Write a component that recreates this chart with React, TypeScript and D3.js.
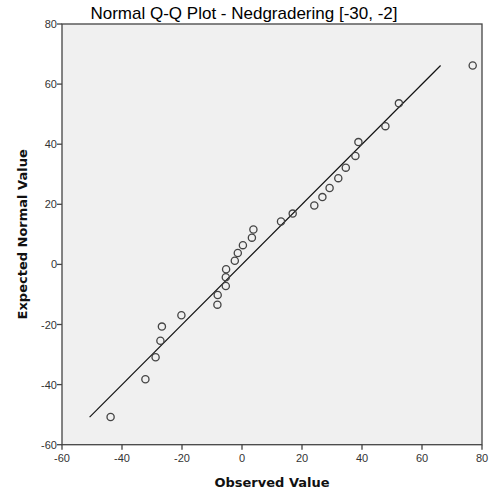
import React from "react";
import * as d3 from "d3";

const observed = [-43.8, -32.2, -28.8, -27.2, -26.7, -20.2, -8.2, -8.1, -5.4, -5.4, -5.3, -2.4, -1.4, 0.3, 3.3, 3.8, 13, 16.9, 24.1, 26.8, 29.2, 32.1, 34.6, 37.8, 38.8, 47.8, 52.3, 76.9];
const expected = [-50.8, -38.2, -30.9, -25.4, -20.7, -16.9, -13.4, -10.2, -7.2, -4.3, -1.6, 1.2, 3.8, 6.4, 8.9, 11.6, 14.3, 16.9, 19.6, 22.4, 25.4, 28.7, 32.2, 36.1, 40.7, 46.0, 53.6, 66.2];
const xTicks = [-60, -40, -20, 0, 20, 40, 60, 80];
const yTicks = [-60, -40, -20, 0, 20, 40, 60, 80];
const lineRange = [-50.8, 66.2];

const W = 491, H = 497;
const left = 62, right = 482, top = 24, bottom = 444.7;

export default function App() {
  const x = d3.scaleLinear().domain([-60, 80]).range([left, right]);
  const y = d3.scaleLinear().domain([-60, 80]).range([bottom, top]);
  const tickFont = "'Liberation Sans', Arial, sans-serif";
  return (
    <svg width={W} height={H} style={{ position: "absolute", left: 0, top: 0 }}>
      <rect x={0} y={0} width={W} height={H} fill="#ffffff" />
      <text x={244} y={19} textAnchor="middle" fontFamily={tickFont} fontSize={17} fill="#000">
        Normal Q-Q Plot - Nedgradering [-30, -2]
      </text>
      <rect x={left} y={top} width={right - left} height={bottom - top} fill="#f0f0f0" stroke="#444" strokeWidth={1.3} />
      {yTicks.map((t) => (
        <g key={"y" + t}>
          <line x1={left - 5} x2={left} y1={y(t)} y2={y(t)} stroke="#444" strokeWidth={1.3} />
          <text x={left - 5} y={y(t) + 4} textAnchor="end" fontFamily={tickFont} fontSize={11} fill="#333">
            {t}
          </text>
        </g>
      ))}
      {xTicks.map((t) => (
        <g key={"x" + t}>
          <line x1={x(t)} x2={x(t)} y1={bottom} y2={bottom + 5} stroke="#444" strokeWidth={1.3} />
          <text x={x(t)} y={bottom + 17} textAnchor="middle" fontFamily={tickFont} fontSize={11} fill="#333">
            {t}
          </text>
        </g>
      ))}
      <line x1={x(lineRange[0])} y1={y(lineRange[0])} x2={x(lineRange[1])} y2={y(lineRange[1])} stroke="#111" strokeWidth={1.2} />
      {observed.map((v, i) => (
        <circle key={i} cx={x(v)} cy={y(expected[i])} r={3.6} fill="none" stroke="#444" strokeWidth={1.3} />
      ))}
      <text x={(left + right) / 2} y={487} textAnchor="middle" fontFamily="'DejaVu Sans', sans-serif" fontWeight="bold" fontSize={13} fill="#111">
        Observed Value
      </text>
      <text transform={`translate(27, ${(top + bottom) / 2}) rotate(-90)`} textAnchor="middle" fontFamily="'DejaVu Sans', sans-serif" fontWeight="bold" fontSize={13} fill="#111">
        Expected Normal Value
      </text>
    </svg>
  );
}
